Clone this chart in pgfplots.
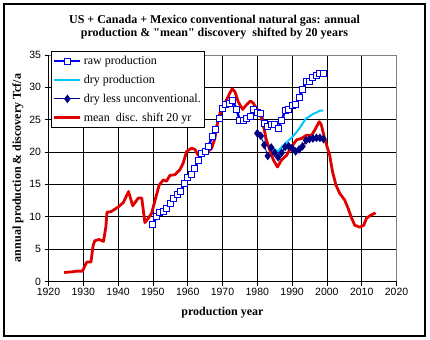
\documentclass[border=0pt]{standalone}
\usepackage{pgfplots}
\pgfplotsset{compat=1.18}
\usepackage{fontspec}
\setmainfont{Liberation Serif}
\newfontfamily\tickfont{Liberation Sans}
\definecolor{rawblue}{RGB}{0,0,235}
\definecolor{drycyan}{RGB}{0,200,255}
\definecolor{navyd}{RGB}{0,0,128}
\definecolor{discred}{RGB}{225,0,0}
\begin{document}
\begin{tikzpicture}
\useasboundingbox (-48.5bp,-58.5bp) rectangle (381.5bp,281.5bp);
\begin{axis}[
  at={(0,0)}, anchor=south west,
  scale only axis, width=348bp, height=226.5bp,
  xmin=1920, xmax=2020, ymin=0, ymax=35,
  xtick={1920,1930,...,2020}, ytick={0,5,...,35},
  grid=major, major grid style={black, line width=0.6bp},
  axis line style={draw=gray, line width=0.8bp},
  tick align=outside, xtick pos=bottom, ytick pos=left,
  major tick length=4bp, tick style={black, line width=0.6bp},
  /pgf/number format/assume math mode=true,
  /pgf/number format/1000 sep={},
  ticklabel style={font=\tickfont\fontsize{10.5bp}{12bp}\selectfont},
  xticklabel style={yshift=1bp},
  legend style={at={(0.006,1.018)}, anchor=north west, draw=black, fill=white,
    line width=0.8bp,
    font=\fontsize{12bp}{13bp}\selectfont, inner xsep=2bp, inner ysep=3bp,
    row sep=5bp, cells={anchor=west},
    /tikz/every even column/.append style={column sep=0bp}},
  legend cell align=left,
  legend image code/.code={\draw[mark repeat=2,mark phase=2] plot coordinates {(0bp,0bp)(13bp,0bp)(26bp,0bp)};},
]
\addplot[rawblue, line width=2.4bp, mark=square*, mark size=3bp,
  mark options={solid, fill=white, draw=rawblue, line width=1bp}] coordinates {
(1950,8.85)(1951,10.0)(1952,10.6)(1953,10.8)(1954,11.3)(1955,12.1)(1956,12.8)
(1957,13.4)(1958,13.9)(1959,15.1)(1960,16.1)(1961,16.6)(1962,17.5)(1963,18.7)
(1964,19.8)(1965,20.1)(1966,20.9)(1967,22.4)(1968,23.5)(1969,25.2)(1970,26.7)
(1971,27.4)(1972,27.5)(1973,27.9)(1974,26.6)(1975,24.9)(1976,24.9)(1977,25.2)
(1978,25.5)(1979,26.6)(1980,26.1)(1981,25.9)(1982,24.4)(1983,24.0)(1984,24.3)
(1985,24.3)(1986,23.7)(1987,24.9)(1988,26.4)(1989,26.6)(1990,27.2)(1991,27.4)
(1992,28.5)(1993,29.6)(1994,30.9)(1995,30.9)(1996,31.5)(1997,31.8)(1998,32.2)
(1999,32.2)};
\addlegendentry{raw production}
\addplot[drycyan, line width=2bp] coordinates {
(1982,22.4)(1983,21.2)(1984,20.7)(1985,20.4)(1986,20.1)(1987,20.8)(1988,21.3)
(1989,21.8)(1990,22.3)(1991,22.9)(1992,23.6)(1993,24.4)(1994,25.2)(1995,25.5)
(1996,25.9)(1997,26.1)(1998,26.4)(1999,26.4)};
\addlegendentry{dry production}
\addplot[navyd, line width=0.9bp, mark=diamond*, mark size=3.6bp,
  mark options={solid, fill=navyd}] coordinates {
(1980,22.9)(1981,22.5)(1982,21.1)(1983,19.4)(1984,20.7)(1985,19.9)(1986,19.2)
(1987,19.9)(1988,20.8)(1989,20.9)(1990,20.6)(1991,20.1)(1992,20.4)(1993,20.9)
(1994,21.8)(1995,22.0)(1996,22.1)(1997,22.2)(1998,22.2)(1999,22.0)};
\addlegendentry{dry less unconventional.}
\addplot[discred, line width=2.8bp, line join=round] coordinates {
(1924.5,1.4)(1927,1.5)(1928,1.6)(1929.8,1.6)(1930.5,2.5)(1931,3.0)(1932.2,3.0)
(1932.8,5.5)(1933.3,6.3)(1934.5,6.5)(1935.8,6.2)(1936.5,8.5)(1936.8,10.7)
(1938,10.8)(1940,11.5)(1941.5,12.2)(1943,13.9)(1944.2,11.7)(1945.8,12.9)
(1946.8,12.9)(1947.7,9.1)(1948.7,9.8)(1949.6,10.5)(1950.4,12.1)(1951.8,14.9)
(1953,15.7)(1953.9,15.5)(1954.9,16.4)(1956.3,16.5)(1957.8,17.3)(1958.7,18.3)
(1959.7,20.1)(1961.1,20.6)(1962.1,20.4)(1963,19.5)(1964.5,19.8)(1965.9,20.1)
(1966.9,20.6)(1967.8,22.1)(1968.8,25.2)(1969.7,26.7)(1971.2,28.1)(1972.1,29.1)
(1972.8,29.8)(1973.6,29.3)(1974.5,27.8)(1975.8,26.6)(1976.9,27.3)(1978,27.9)
(1978.8,27.6)(1979.8,26.7)(1980.7,26.2)(1981.7,24.2)(1982.6,21.9)(1983.6,20.3)
(1984.6,18.8)(1985.8,17.7)(1987,18.8)(1988.4,19.5)(1989.8,20.8)(1991.3,21.9)
(1992.7,22.1)(1994.1,22.6)(1995.6,22.6)(1996.5,23.4)(1997.8,24.7)(1998.4,24.2)
(1999.2,22.4)(1999.9,21.1)(2000.8,19.5)(2001.6,17.0)(2002.6,14.9)(2003.7,13.6)
(2005.1,12.6)(2006.1,11.3)(2007.1,9.8)(2008,8.7)(2009.4,8.4)(2010.6,8.7)
(2011.4,9.8)(2012.8,10.3)(2014,10.6)};
\addlegendentry{mean\ \ disc. shift 20 yr}
\end{axis}
% black left and bottom axis lines
\draw[black, line width=0.9bp] (0bp,226.5bp) -- (0bp,0bp) -- (348bp,0bp);
% outer frame
\draw[black, line width=1.5bp] (-44.5bp,-54.5bp) rectangle (376.5bp,277.5bp);
% title
\node[font=\bfseries\fontsize{12bp}{12.5bp}\selectfont, align=center] at (166bp,254.5bp)
  {US + Canada + Mexico conventional natural gas: annual\\production \& \textquotedbl mean\textquotedbl{} discovery\ \ shifted by 20 years};
% axis labels
\node[font=\bfseries\fontsize{12bp}{14bp}\selectfont] at (174bp,-31bp) {production year};
\node[font=\bfseries\fontsize{12bp}{14bp}\selectfont, rotate=90] at (-30.5bp,113.5bp) {annual production \& discovery Tcf/a};
\end{tikzpicture}
\end{document}
